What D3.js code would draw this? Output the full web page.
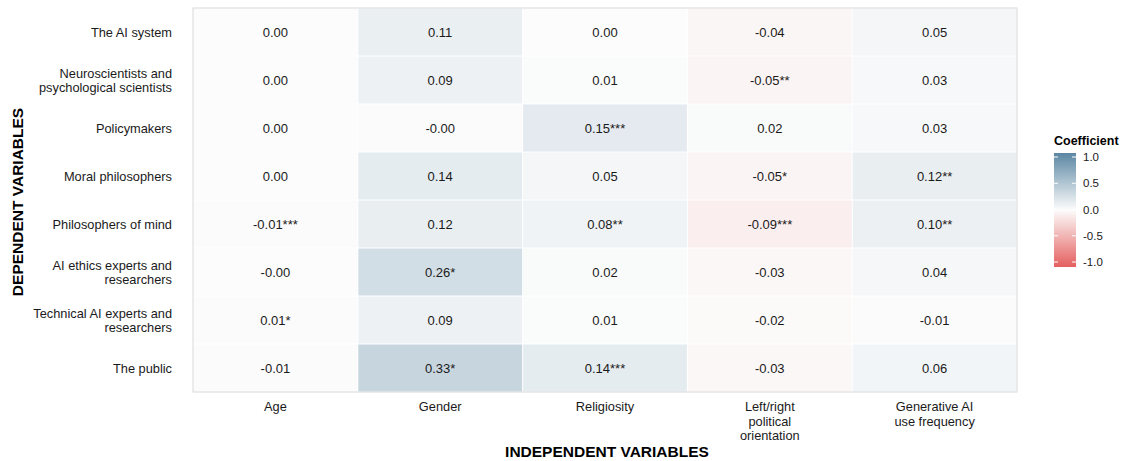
<!DOCTYPE html>
<html><head><meta charset="utf-8">
<script src="https://cdn.jsdelivr.net/npm/d3@7"></script>
<style>body{margin:0;background:#fff;} text{font-family:"Liberation Sans",Arial,Helvetica,sans-serif;}</style>
</head><body><svg id="c" width="1125" height="461"></svg>
<script>
const rows = ["The AI system","Neuroscientists and psychological scientists","Policymakers","Moral philosophers","Philosophers of mind","AI ethics experts and researchers","Technical AI experts and researchers","The public"];
const rowLines = [["The AI system"],["Neuroscientists and","psychological scientists"],["Policymakers"],["Moral philosophers"],["Philosophers of mind"],["AI ethics experts and","researchers"],["Technical AI experts and","researchers"],["The public"]];
const cols = ["Age","Gender","Religiosity","Left/right political orientation","Generative AI use frequency"];
const colLines = [["Age"],["Gender"],["Religiosity"],["Left/right","political","orientation"],["Generative AI","use frequency"]];
const ageVals      = [0.00, 0.00, 0.00, 0.00, -0.006, -0.002, 0.006, -0.006];
const genderVals   = [0.11, 0.09, -0.004, 0.14, 0.12, 0.26, 0.09, 0.33];
const religVals    = [0.00, 0.01, 0.15, 0.05, 0.08, 0.02, 0.01, 0.14];
const politVals    = [-0.04, -0.05, 0.02, -0.05, -0.09, -0.03, -0.02, -0.03];
const genaiVals    = [0.05, 0.03, 0.03, 0.12, 0.10, 0.04, -0.007, 0.06];
const ageStars     = ["","","","","***","","*",""];
const genderStars  = ["","","","","","*","","*"];
const religStars   = ["","","***","","**","","","***"];
const politStars   = ["","**","","*","***","","",""];
const genaiStars   = ["","","","**","**","","",""];
const legendTicks = [1.0, 0.5, 0.0, -0.5, -1.0];

const valsByCol = [ageVals, genderVals, religVals, politVals, genaiVals];
const starsByCol = [ageStars, genderStars, religStars, politStars, genaiStars];
const cells = [];
cols.forEach((c,ci)=>rows.forEach((r,ri)=>cells.push({r,c,v:valsByCol[ci][ri],s:starsByCol[ci][ri]})));
const fmt = v => (v<0?"-":"") + Math.abs(v).toFixed(2);

const svg = d3.select("#c");
const L=193, R=1017, T=8, B=392;
const x = d3.scaleBand().domain(cols).range([L,R]);
const y = d3.scaleBand().domain(rows).range([T,B]);
const color = d3.scaleLinear().domain([-1,0,1]).range(["#e45f5e","#fcfcfc","#5b87a3"]).clamp(true);

svg.append("rect").attr("x",L).attr("y",T).attr("width",R-L).attr("height",B-T).attr("fill","#fff");
svg.append("g").selectAll("rect").data(cells).join("rect")
  .attr("x",d=>x(d.c)+0.5).attr("y",d=>y(d.r)+0.5)
  .attr("width",x.bandwidth()-1).attr("height",y.bandwidth()-1)
  .attr("fill",d=>color(d.v));
svg.append("rect").attr("x",L).attr("y",T).attr("width",R-L).attr("height",B-T)
  .attr("fill","none").attr("stroke","#d9d9d9").attr("stroke-width",1);
svg.append("g").selectAll("text").data(cells).join("text")
  .attr("x",d=>x(d.c)+x.bandwidth()/2).attr("y",d=>y(d.r)+y.bandwidth()/2+4.5)
  .attr("text-anchor","middle").attr("font-size",13).attr("fill","#1a1a1a")
  .text(d=>fmt(d.v)+d.s);

// y axis labels
rows.forEach((r,i)=>{
  const lines=rowLines[i];
  const cy=y(r)+y.bandwidth()/2;
  const t=svg.append("text").attr("text-anchor","end").attr("font-size",12.8).attr("fill","#1a1a1a");
  lines.forEach((ln,k)=>t.append("tspan").attr("x",172).attr("y",cy+4.5+(k-(lines.length-1)/2)*14).text(ln));
});
// x axis labels
cols.forEach((c,i)=>{
  const cx=x(c)+x.bandwidth()/2;
  const t=svg.append("text").attr("text-anchor","middle").attr("font-size",12.8).attr("fill","#1a1a1a");
  colLines[i].forEach((ln,k)=>t.append("tspan").attr("x",cx).attr("y",411+k*14.5).text(ln));
});
svg.append("text").attr("x",(L+R)/2+2).attr("y",457).attr("text-anchor","middle")
  .attr("font-size",15.5).attr("font-weight","bold").text("INDEPENDENT VARIABLES");
svg.append("text").attr("transform",`translate(23,${(T+B)/2+2}) rotate(-90)`).attr("text-anchor","middle")
  .attr("font-size",15.5).attr("font-weight","bold").text("DEPENDENT VARIABLES");

// legend
const lx=1054, lw=22, ly0=153, ly1=267;
const defs=svg.append("defs");
const grad=defs.append("linearGradient").attr("id","lg").attr("x1",0).attr("y1",0).attr("x2",0).attr("y2",1);
d3.range(0,1.0001,0.05).forEach(t=>grad.append("stop").attr("offset",t).attr("stop-color",color(1-2*t)));
svg.append("rect").attr("x",lx).attr("y",ly0).attr("width",lw).attr("height",ly1-ly0).attr("fill","url(#lg)");
const ly=d3.scaleLinear().domain([1,-1]).range([157,262]);
legendTicks.forEach(v=>{
  svg.append("line").attr("x1",lx).attr("x2",lx+4).attr("y1",ly(v)).attr("y2",ly(v)).attr("stroke","#fff").attr("stroke-width",1);
  svg.append("line").attr("x1",lx+lw-4).attr("x2",lx+lw).attr("y1",ly(v)).attr("y2",ly(v)).attr("stroke","#fff").attr("stroke-width",1);
  svg.append("text").attr("x",1083).attr("y",ly(v)+4).attr("font-size",11.5).attr("fill","#1a1a1a").text(v.toFixed(1));
});
svg.append("text").attr("x",lx).attr("y",145).attr("font-size",12.5).attr("font-weight","bold").text("Coefficient");
</script></body></html>
